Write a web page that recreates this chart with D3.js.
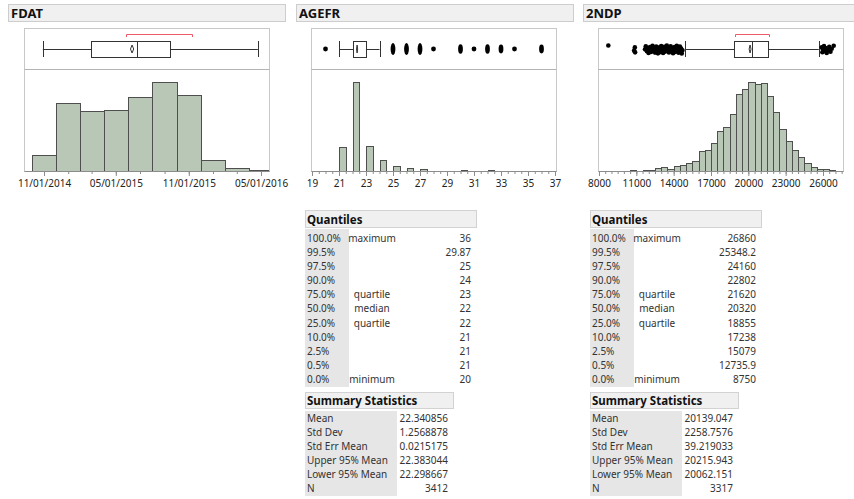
<!DOCTYPE html>
<html>
<head>
<meta charset="utf-8">
<script src="https://cdn.jsdelivr.net/npm/d3@7"></script>
<style>
body { margin: 0; background: #fff; }
svg text { font-family: "Noto Sans", sans-serif; }
</style>
</head>
<body>
<div id="chart"></div>
<script>
// ---- data ----
// FDAT: two-month bins
let fdatBinStarts = ["2014-10-01", "2014-12-01", "2015-02-01", "2015-04-01", "2015-06-01", "2015-08-01", "2015-10-01", "2015-12-01", "2016-02-01", "2016-04-01"];
let fdatBinEnds = ["2014-12-01", "2015-02-01", "2015-04-01", "2015-06-01", "2015-08-01", "2015-10-01", "2015-12-01", "2016-02-01", "2016-04-01", "2016-06-01"];
let fdatCounts = [120, 510, 450, 458, 555, 668, 570, 83, 22, 6];
let fdatFive = ["2014-10-29", "2015-02-27", "2015-06-23", "2015-09-15", "2016-04-23"]; // min, q1, median, q3, max
let fdatMean = "2015-06-11";
let fdatMeanCI = ["2015-06-07", "2015-06-15"];
let fdatShortHalf = ["2015-05-27", "2015-11-09"];
let fdatMajorTicks = ["2014-11-01", "2015-05-01", "2015-11-01", "2016-05-01"];

// AGEFR: integer ages
let agefrValues = [20, 21, 22, 23, 24, 25, 26, 27, 28, 30, 31, 32, 33, 34, 36];
let agefrCounts = [5, 510, 1895, 535, 225, 100, 55, 35, 3, 12, 2, 12, 10, 3, 10];
let agefrWhiskers = [21, 24];

// 2NDP: bins of 500
let ndpBinStarts = [8500, 10500, 11500, 12000, 12500, 13000, 13500, 14000, 14500, 15000, 15500, 16000, 16500, 17000, 17500, 18000, 18500, 19000, 19500, 20000, 20500, 21000, 21500, 22000, 22500, 23000, 23500, 24000, 24500, 25000, 25500, 26000, 26500];
let ndpCounts = [1, 3, 4, 5, 9, 14, 8, 17, 20, 30, 34, 69, 75, 100, 140, 157, 201, 273, 290, 315, 309, 313, 266, 210, 149, 106, 75, 51, 27, 14, 7, 8, 5];
let ndpWhiskers = [14890, 25660];
let ndpShortHalf = [18960, 21690];
let ndpOutliers = [8750, 10820, 10880, 10900, 11700, 11760, 11850, 11900, 11980, 12050, 12100, 12180, 12250, 12300, 12380, 12420, 12500, 12560, 12600, 12650, 12700, 12736, 12800, 12850, 12900, 12950, 13000, 13050, 13100, 13150, 13200, 13250, 13300, 13380, 13450, 13500, 13560, 13620, 13700, 13760, 13800, 13880, 13950, 14000, 14060, 14120, 14180, 14250, 14300, 14350, 14400, 14450, 14500, 14550, 14600, 14650, 14700, 25900, 25950, 26000, 26080, 26150, 26200, 26300, 26400, 26500, 26600, 26700, 26860];

// tables
let quantileLevels = ["100.0%", "99.5%", "97.5%", "90.0%", "75.0%", "50.0%", "25.0%", "10.0%", "2.5%", "0.5%", "0.0%"];
let quantileNames = ["maximum", "", "", "", "quartile", "median", "quartile", "", "", "", "minimum"];
let agefrQuantiles = [36, 29.87, 25, 24, 23, 22, 22, 21, 21, 21, 20];
let ndpQuantiles = [26860, 25348.2, 24160, 22802, 21620, 20320, 18855, 17238, 15079, 12735.9, 8750];
let summaryLabels = ["Mean", "Std Dev", "Std Err Mean", "Upper 95% Mean", "Lower 95% Mean", "N"];
let agefrSummary = [22.340856, 1.2568878, 0.0215175, 22.383044, 22.298667, 3412];
let ndpSummary = [20139.047, 2258.7576, 39.219033, 20215.943, 20062.151, 3317];

// ---- layout ----
let width = 854, height = 499;
let frameW = 245, frameTop = 28, sepY = 69, axisY = 171, boxMid = 49, boxHalf = 8;
let barFill = "#b9c8b6", barStroke = "#4f4f4f", boxStroke = "#333";

let parseDate = d3.timeParse("%Y-%m-%d");
let fmtDate = d3.timeFormat("%m/%d/%Y");

let svg = d3.select("#chart")
    .append("svg")
    .attr("width", width)
    .attr("height", height);

function header(x0, w, title) {
    svg.append("rect")
        .attr("x", x0 + 0.5).attr("y", 4.5)
        .attr("width", w).attr("height", 17)
        .attr("fill", "#f0f0f0").attr("stroke", "#cdcdcd");
    svg.append("text")
        .attr("x", x0 + 3).attr("y", 18)
        .attr("font-size", 13).attr("font-weight", "bold")
        .attr("fill", "#111")
        .text(title);
}

function panel(left, id) {
    let g = svg.append("g").attr("transform", "translate(" + left + ",0)");
    g.append("clipPath").attr("id", id)
        .append("rect")
        .attr("x", 0).attr("y", frameTop)
        .attr("width", frameW).attr("height", axisY - frameTop);
    return g;
}

function frame(g) {
    g.append("rect")
        .attr("x", 0.5).attr("y", frameTop + 0.5)
        .attr("width", frameW).attr("height", axisY - frameTop)
        .attr("fill", "none").attr("stroke", "#c8c8c8");
    g.append("line")
        .attr("x1", 0.5).attr("x2", frameW + 0.5)
        .attr("y1", sepY + 0.5).attr("y2", sepY + 0.5)
        .attr("stroke", "#b4b4b4");
    g.append("line")
        .attr("x1", 0.5).attr("x2", frameW + 0.5)
        .attr("y1", axisY + 0.5).attr("y2", axisY + 0.5)
        .attr("stroke", "#8c8c8c");
}

function histogram(g, x, lo, hi, counts, id) {
    let y = d3.scaleLinear()
        .domain([0, d3.max(counts) / 0.873])
        .range([axisY, sepY]);
    g.append("g")
        .attr("clip-path", "url(#" + id + ")")
        .selectAll("rect")
        .data(counts)
        .join("rect")
        .attr("x", (d, i) => Math.round(x(lo[i])) + 0.5)
        .attr("width", (d, i) => Math.round(x(hi[i])) - Math.round(x(lo[i])))
        .attr("y", d => Math.round(y(d)) + 0.5)
        .attr("height", d => axisY - Math.round(y(d)))
        .attr("fill", barFill)
        .attr("stroke", barStroke);
}

function axis(g, x, major, minor, fmt) {
    g.append("g")
        .attr("transform", "translate(0," + axisY + ")")
        .call(d3.axisBottom(x).tickValues(minor).tickSize(3).tickFormat(""))
        .call(a => a.select(".domain").remove())
        .call(a => a.selectAll("line").attr("stroke", "#8c8c8c"));
    g.append("g")
        .attr("transform", "translate(0," + axisY + ")")
        .call(d3.axisBottom(x).tickValues(major).tickSize(5).tickPadding(4).tickFormat(fmt))
        .call(a => a.select(".domain").remove())
        .call(a => a.selectAll("line").attr("stroke", "#8c8c8c"))
        .call(a => a.selectAll("text").attr("font-size", 10).attr("fill", "#222").attr("font-family", "Noto Sans"));
}

function boxplot(g, x, five, mean, ci, half) {
    let b = g.append("g").attr("fill", "none").attr("stroke", boxStroke);
    b.append("line")
        .attr("x1", x(five[0])).attr("x2", x(five[4]))
        .attr("y1", boxMid + 0.5).attr("y2", boxMid + 0.5);
    b.selectAll(".cap")
        .data([five[0], five[4]])
        .join("line")
        .attr("x1", d => Math.round(x(d)) + 0.5).attr("x2", d => Math.round(x(d)) + 0.5)
        .attr("y1", boxMid - boxHalf).attr("y2", boxMid + boxHalf);
    b.append("rect")
        .attr("x", Math.round(x(five[1])) + 0.5).attr("y", boxMid - boxHalf + 0.5)
        .attr("width", Math.round(x(five[3])) - Math.round(x(five[1])))
        .attr("height", boxHalf * 2)
        .attr("fill", "#fff");
    b.append("line")
        .attr("x1", Math.round(x(five[2])) + 0.5).attr("x2", Math.round(x(five[2])) + 0.5)
        .attr("y1", boxMid - boxHalf).attr("y2", boxMid + boxHalf);
    b.append("path")
        .attr("d", "M" + x(ci[0]) + "," + boxMid + "L" + x(mean) + "," + (boxMid - 4) +
            "L" + x(ci[1]) + "," + boxMid + "L" + x(mean) + "," + (boxMid + 4) + "Z")
        .attr("stroke-width", 1);
    if (half) {
        g.append("path")
            .attr("d", "M" + Math.round(x(half[0])) + ".5," + (frameTop + 9) + "V" + (frameTop + 6.5) +
                "H" + Math.round(x(half[1])) + ".5V" + (frameTop + 9))
            .attr("fill", "none")
            .attr("stroke", "#ec5a66");
    }
}

// ---- FDAT ----
header(8, 277, "FDAT");
let g1 = panel(24, "clipFdat");
let x1 = d3.scaleTime()
    .domain([parseDate("2014-11-01"), parseDate("2016-05-01")])
    .range([20, 237]);
histogram(g1, x1, fdatBinStarts.map(parseDate), fdatBinEnds.map(parseDate), fdatCounts, "clipFdat");
frame(g1);
axis(g1, x1,
    fdatMajorTicks.map(parseDate),
    d3.timeMonth.every(2).range(parseDate("2014-11-01"), parseDate("2016-05-02")),
    fmtDate);
boxplot(g1, x1, fdatFive.map(parseDate), parseDate(fdatMean), fdatMeanCI.map(parseDate), fdatShortHalf.map(parseDate));

// ---- AGEFR ----
header(296, 277, "AGEFR");
let g2 = panel(311, "clipAge");
let x2 = d3.scaleLinear().domain([19, 37]).range([1, 244]);
histogram(g2, x2, agefrValues, agefrValues.map(v => v + 0.5), agefrCounts, "clipAge");
frame(g2);
axis(g2, x2, d3.range(19, 38, 2), d3.range(19, 37.01, 0.5), d3.format("d"));
boxplot(g2, x2,
    [agefrWhiskers[0], agefrQuantiles[6], agefrQuantiles[5], agefrQuantiles[4], agefrWhiskers[1]],
    agefrSummary[0], [agefrSummary[4], agefrSummary[3]], null);
g2.append("g")
    .selectAll("ellipse")
    .data(agefrValues.map((v, i) => ({v: v, c: agefrCounts[i]}))
        .filter(d => d.v < agefrWhiskers[0] || d.v > agefrWhiskers[1]))
    .join("ellipse")
    .attr("cx", d => x2(d.v))
    .attr("cy", boxMid)
    .attr("rx", 2.4)
    .attr("ry", d => d.c <= 5 ? 2.4 : Math.min(6, 2.4 + d.c / 5))
    .attr("fill", "#000");

// ---- 2NDP ----
header(583, 277, "2NDP");
let g3 = panel(598, "clipNdp");
let x3 = d3.scaleLinear().domain([8000, 26000]).range([1, 225]);
histogram(g3, x3, ndpBinStarts, ndpBinStarts.map(v => v + 500), ndpCounts, "clipNdp");
frame(g3);
axis(g3, x3, d3.range(8000, 26001, 3000), d3.range(8000, 27501, 500), d3.format("d"));
boxplot(g3, x3,
    [ndpWhiskers[0], ndpQuantiles[6], ndpQuantiles[5], ndpQuantiles[4], ndpWhiskers[1]],
    ndpSummary[0], [ndpSummary[4], ndpSummary[3]], ndpShortHalf);
g3.append("g")
    .selectAll("circle")
    .data(ndpOutliers)
    .join("circle")
    .attr("cx", d => x3(d))
    .attr("cy", (d, i) => boxMid + 0.5 + ((i * 0.618034) % 1 - 0.5) * 8)
    .attr("r", 2.3)
    .attr("fill", "#000");

// ---- tables ----
function quantileTable(x0, values) {
    let g = svg.append("g").attr("transform", "translate(" + x0 + ",0)");
    g.append("rect").attr("x", 0.5).attr("y", 210.5).attr("width", 171).attr("height", 17)
        .attr("fill", "#f0f0f0").attr("stroke", "#d2d2d2");
    g.append("text").attr("x", 2).attr("y", 224).attr("font-size", 11.5).attr("font-weight", "bold")
        .attr("fill", "#111").text("Quantiles");
    g.append("rect").attr("x", 0).attr("y", 229).attr("width", 44).attr("height", 158).attr("fill", "#e6e6e6");
    let rowY = i => 242.2 + i * 14.05;
    let rows = g.selectAll(".row").data(values).join("g")
        .attr("transform", (d, i) => "translate(0," + rowY(i) + ")")
        .attr("font-size", 10).attr("fill", "#333");
    rows.append("text").attr("x", 2).text((d, i) => quantileLevels[i]);
    rows.append("text").attr("x", 67).attr("text-anchor", "middle").text((d, i) => quantileNames[i]);
    rows.append("text").attr("x", 166).attr("text-anchor", "end").text(d => String(d));
}

function summaryTable(x0, values) {
    let g = svg.append("g").attr("transform", "translate(" + x0 + ",0)");
    g.append("rect").attr("x", 0.5).attr("y", 392.5).attr("width", 148).attr("height", 16)
        .attr("fill", "#f0f0f0").attr("stroke", "#d2d2d2");
    g.append("text").attr("x", 2).attr("y", 405).attr("font-size", 11.5).attr("font-weight", "bold")
        .attr("fill", "#111").text("Summary Statistics");
    g.append("rect").attr("x", 0).attr("y", 411).attr("width", 92).attr("height", 85).attr("fill", "#e6e6e6");
    let rowY = i => 422.2 + i * 14.05;
    let rows = g.selectAll(".row").data(values).join("g")
        .attr("transform", (d, i) => "translate(0," + rowY(i) + ")")
        .attr("font-size", 10).attr("fill", "#333");
    rows.append("text").attr("x", 2).text((d, i) => summaryLabels[i]);
    rows.append("text").attr("x", 143).attr("text-anchor", "end").text(d => String(d));
}

quantileTable(305, agefrQuantiles);
summaryTable(305, agefrSummary);
quantileTable(590, ndpQuantiles);
summaryTable(590, ndpSummary);
</script>
</body>
</html>
